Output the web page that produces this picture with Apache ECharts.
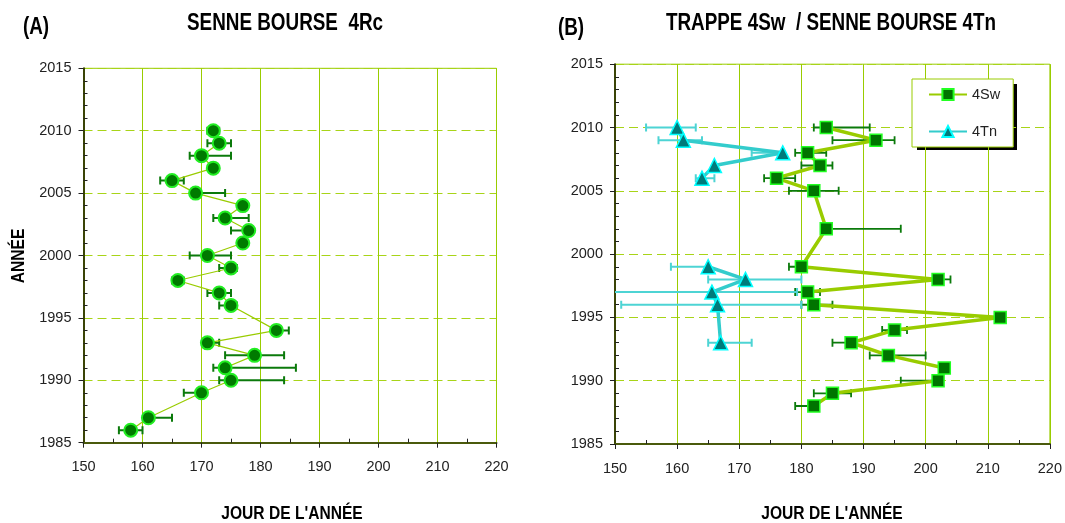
<!DOCTYPE html>
<html>
<head>
<meta charset="utf-8">
<script src="https://cdn.jsdelivr.net/npm/echarts@6/dist/echarts.min.js"></script>
<style>
html,body{margin:0;padding:0;background:#fff;}
#chart{width:1065px;height:523px;}
</style>
</head>
<body>
<div id="chart"></div>
<script>
// ---------- DATA ----------
// Panel A : SENNE BOURSE 4Rc
const yearsA = [2010,2009,2008,2007,2006,2005,2004,2003,2002,2001,2000,1999,1998,1997,1996,1994,1993,1992,1991,1990,1989,1987,1986];
const dayA   = [172,173,170,172,165,169,177,174,178,177,171,175,166,173,175,182.7,171,179,174,175,170,161,158];
const lowA   = [171,171,168,172,163,169,177,172,175,177,168,173,165,171,173,182.7,171,174,172,173,167,161,156];
const highA  = [173,175,175,172,167,174,177,178,178,177,175,176,167,175,176,184.8,173,184,186,184,170,165,160];

// Panel B : TRAPPE 4Sw
const yearsSw = [2010,2009,2008,2007,2006,2005,2002,1999,1998,1997,1996,1995,1994,1993,1992,1991,1990,1989,1988];
const daySw   = [184,192,181,183,176,182,184,180,202,181,182,212,195,188,194,203,202,185,182];
const lowSw   = [182,185,179,180,174,178,184,178,202,179,180,212,193,185,191,203,196,182,179];
const highSw  = [191,195,184,185,179,186,196,180,204,183,185,212,197,188,200,203,202,188,182];

// Panel B : SENNE BOURSE 4Tn (null = missing year, breaks the line)
const yearsTn = [2010,2009,2008,2007,2006,2003,1999,1998,1997,1996,1993];
const dayTn   = [160,161,177,166,164,null,165,171,165.6,166.5,167];
const lowTn   = [155,157,172,166,163,null,159,165,148,151,165];
const highTn  = [163,164,177,166,166,null,165,180,179.3,180,172];

const xTicks = {min:150, max:220, interval:10};
const yTicks = {min:1985, max:2015, interval:5};

const titleA = 'SENNE BOURSE  4Rc';
const titleB = 'TRAPPE 4Sw  / SENNE BOURSE 4Tn';
const xName = "JOUR DE L'ANNÉE";
const yName = 'ANNÉE';
const seriesNames = ['4Sw','4Tn'];

// ---------- HELPERS ----------
const FONT = '"Liberation Sans", Arial, sans-serif';

function pts(years, days){
  return years.map((y,i)=> days[i]==null ? ['-', y] : [days[i], y]);
}
function errs(years, lows, highs){
  const out=[];
  years.forEach((y,i)=>{ if(lows[i]!=null && highs[i]!=null && highs[i]>lows[i]) out.push([lows[i], y, highs[i]]); });
  return out;
}
function errRender(cap, color, width){
  return function(params, api){
    const lo = api.coord([api.value(0), api.value(1)]);
    const hi = api.coord([api.value(2), api.value(1)]);
    const st = {stroke:color, lineWidth:width, fill:null};
    return {type:'group', children:[
      {type:'line', shape:{x1:lo[0],y1:lo[1],x2:hi[0],y2:hi[1]}, style:st},
      {type:'line', shape:{x1:lo[0],y1:lo[1]-cap,x2:lo[0],y2:lo[1]+cap}, style:st},
      {type:'line', shape:{x1:hi[0],y1:hi[1]-cap,x2:hi[0],y2:hi[1]+cap}, style:st}
    ]};
  };
}
function narrowText(text, x, y, size, rot){
  return {type:'text', x:x, y:y, rotation:rot||0, scaleX:0.82,
    style:{text:text, font:'bold '+size+'px '+FONT, fill:'#000', align:'center', verticalAlign:'middle'}};
}
const GRN = '#99cc00';
function xAxisCfg(idx){
  return {
    type:'value', gridIndex:idx, min:xTicks.min, max:xTicks.max, interval:xTicks.interval,
    axisLine:{show:true, onZero:false, lineStyle:{color:'#4a5a0c', width:2}},
    axisTick:{show:true, length:5, lineStyle:{color:'#222', width:1}},
    minorTick:{show:true, splitNumber:2, length:-4, lineStyle:{color:'#222', width:1}},
    axisLabel:{fontFamily:FONT, fontSize:14.5, color:'#222', margin:17, formatter:v=>String(v)},
    splitLine:{show:true, lineStyle:{color:GRN, width:1}}
  };
}
function yAxisCfg(idx){
  return {
    type:'value', gridIndex:idx, min:yTicks.min, max:yTicks.max, interval:yTicks.interval,
    axisLine:{show:true, onZero:false, lineStyle:{color:'#3a4406', width:2}},
    axisTick:{show:true, length:5, lineStyle:{color:'#222', width:1}},
    minorTick:{show:true, splitNumber:5, length:-4, lineStyle:{color:'#222', width:1}},
    axisLabel:{fontFamily:FONT, fontSize:14.5, color:'#222', margin:12, formatter:v=>String(v)},
    splitLine:{show:true, lineStyle:{color:'#a8d418', width:1, type:[9,5]}}
  };
}

const chart = echarts.init(document.getElementById('chart'), null, {renderer:'canvas'});
chart.setOption({
  animation:false,
  backgroundColor:'#fff',
  graphic:[
    narrowText('(A)', 36, 28, 23),
    narrowText(titleA, 285, 24, 23),
    narrowText('(B)', 571, 29, 23),
    narrowText(titleB, 831, 24, 23),
    narrowText(xName, 292, 514, 19),
    narrowText(xName, 832, 514, 19),
    narrowText(yName, 19, 256, 19, Math.PI/2),
    // drop shadow of the legend box
    {type:'rect', z:-1, shape:{x:917, y:84, width:100, height:66}, style:{fill:'#000'}}
  ],
  grid:[
    {left:83.5, top:68.3, width:413, height:374.4, show:true, borderColor:GRN, borderWidth:1, backgroundColor:'transparent'},
    {left:615, top:64.2, width:435.3, height:379.8, show:true, borderColor:GRN, borderWidth:1, backgroundColor:'transparent'}
  ],
  xAxis:[xAxisCfg(0), xAxisCfg(1)],
  yAxis:[yAxisCfg(0), yAxisCfg(1)],
  legend:{
    data:seriesNames, orient:'vertical', left:912, top:79, z:10,
    padding:[8,13,8,16], itemGap:22, itemWidth:38, itemHeight:14,
    backgroundColor:'#fff', borderColor:GRN, borderWidth:1,
    textStyle:{fontFamily:FONT, fontSize:14.5, color:'#222'}
  },
  series:[
    {type:'custom', name:'errA', xAxisIndex:0, yAxisIndex:0, silent:true, clip:true,
     data:errs(yearsA, lowA, highA), encode:{x:[0,2], y:1}, renderItem:errRender(4, '#0b7a0b', 2)},
    {type:'custom', name:'errSw', xAxisIndex:1, yAxisIndex:1, silent:true, clip:true,
     data:errs(yearsSw, lowSw, highSw), encode:{x:[0,2], y:1}, renderItem:errRender(4, '#0b7a0b', 1.8)},
    {type:'custom', name:'errTn', xAxisIndex:1, yAxisIndex:1, silent:true, clip:true,
     data:errs(yearsTn, lowTn, highTn), encode:{x:[0,2], y:1}, renderItem:errRender(4, '#4dd4d4', 2)},
    {type:'line', name:'4Rc', xAxisIndex:0, yAxisIndex:0, data:pts(yearsA, dayA),
     symbol:'circle', symbolSize:13,
     lineStyle:{color:GRN, width:1.2},
     itemStyle:{color:'#007a00', borderColor:'#22ee22', borderWidth:2}},
    {type:'line', name:'4Tn', xAxisIndex:1, yAxisIndex:1, data:pts(yearsTn, dayTn),
     symbol:'triangle', symbolSize:14, connectNulls:false,
     lineStyle:{color:'#33cccc', width:3.5},
     itemStyle:{color:'#007a7a', borderColor:'#00ffff', borderWidth:1.5}},
    {type:'line', name:'4Sw', xAxisIndex:1, yAxisIndex:1, data:pts(yearsSw, daySw),
     symbol:'rect', symbolSize:12,
     lineStyle:{color:GRN, width:3.5},
     itemStyle:{color:'#007400', borderColor:'#22ff22', borderWidth:1.5}}
  ]
});
</script>
</body>
</html>
